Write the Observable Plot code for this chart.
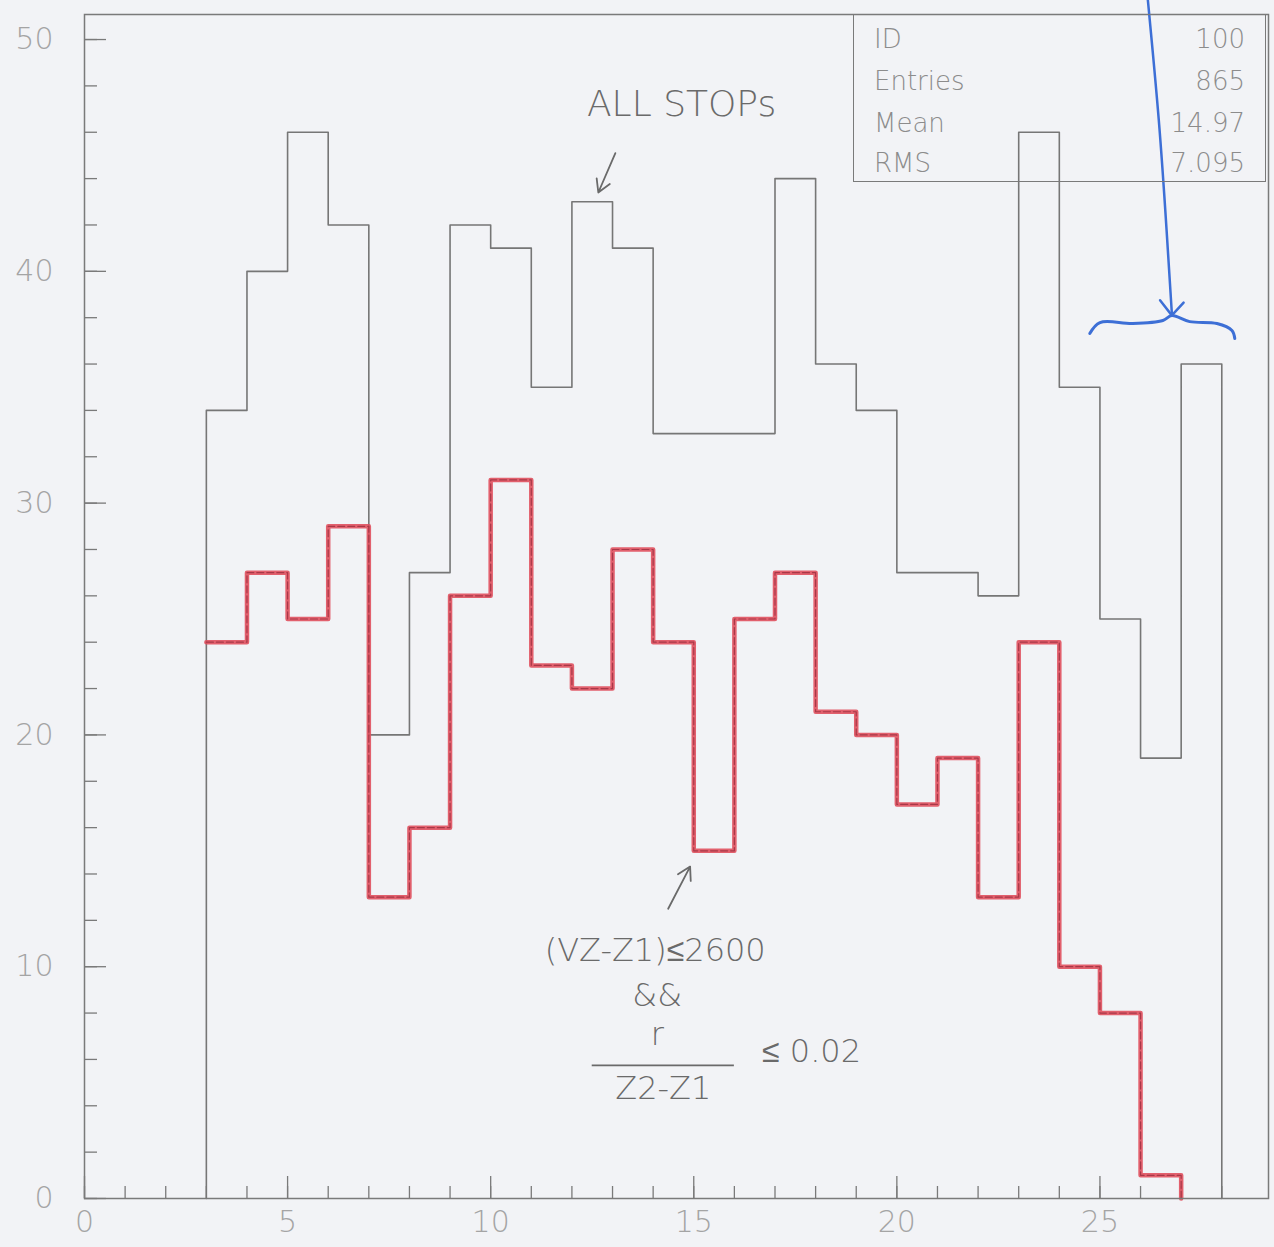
<!DOCTYPE html>
<html>
<head>
<meta charset="utf-8">
<script src="https://cdn.jsdelivr.net/npm/d3@7"></script>
<script src="https://cdn.jsdelivr.net/npm/@observablehq/plot@0.6"></script>
<style>
  html, body { margin: 0; padding: 0; background: #f2f3f6; }
  #wrap { position: relative; width: 1274px; height: 1247px; }
  #stats { position: absolute; left: 853px; top: 14px; width: 413px; height: 168px;
    border: 1.5px solid #7a7a7a; box-sizing: border-box;
    font-family: "DejaVu Sans", sans-serif; font-weight: 200; font-size: 26px; color: #8c8c8c; }
  #stats .row { position: absolute; left: 20px; right: 20px; height: 30px; line-height: 30px; }
  #stats .row span:last-child { position: absolute; right: 0; }
</style>
</head>
<body>
<div id="wrap"></div>
<script>
// ---- data ----
const binStart = 3;                 // first bin low edge (bin width 1)
const allStops = [34, 40, 46, 42, 20, 27, 42, 41, 35, 43, 41, 33, 33, 33, 44, 36, 34, 27, 27, 26, 46, 35, 25, 19, 36];
const selected = [24, 27, 25, 29, 13, 16, 26, 31, 23, 22, 28, 24, 15, 25, 27, 21, 20, 17, 19, 13, 24, 10, 8, 1];
const xLabelTicks = [0, 5, 10, 15, 20, 25];
const yLabelTicks = [0, 10, 20, 30, 40, 50];
const xMinorTicks = d3.range(0, 29, 1);
const yMinorTicks = d3.range(0, 51, 2);
const statNames = ["ID", "Entries", "Mean", "RMS"];
const statValues = ["100", "865", "14.97", "7.095"];

// hand-written annotations (in data units)
const allStopsLabel = [{x: 14.7, y: 47.2, text: "ALL STOPs"}];
const allStopsArrow = [{x1: 13.07, y1: 45.1, x2: 12.65, y2: 43.4}];
const cutLabels = [
  {x: 14.05, y: 10.7, text: "(VZ-Z1)≤2600"},
  {x: 14.1, y: 8.76, text: "&&"},
  {x: 14.1, y: 7.05, text: "r"},
  {x: 14.25, y: 4.75, text: "Z2-Z1"},
  {x: 17.9, y: 6.35, text: "≤ 0.02"}
];
const cutFraction = [{x1: 12.5, x2: 16.0, y: 5.74}];
const cutArrow = [{x1: 14.37, y1: 12.5, x2: 14.91, y2: 14.32}];
const blueArrowPath = [[26.18, 51.7], [26.45, 46.5], [26.64, 41.8], [26.77, 38.2]];
const blueArrowHead = [[26.48, 38.75], [26.77, 38.1], [27.06, 38.65]];
const blueBrace = [[24.75, 37.32], [25.0, 37.79], [25.81, 37.75], [26.55, 37.88], [26.77, 38.09],
                   [27.21, 37.83], [27.88, 37.75], [28.25, 37.45], [28.32, 37.1]];

// ---- build step outlines from bin arrays ----
function outline(values, fromZero) {
  const pts = fromZero ? [[binStart, 0]] : [];
  values.forEach((v, i) => {
    pts.push([binStart + i, v]);
    pts.push([binStart + i + 1, v]);
  });
  pts.push([binStart + values.length, 0]);
  return pts;
}

const W = 1274, H = 1247;
const mT = 14, mB = 49, mL = 84, mR = 6;
const innerH = H - mT - mB, innerW = W - mL - mR;
const font = "DejaVu Sans, sans-serif";
const hand = "DejaVu Sans, sans-serif";

const chart = Plot.plot({
  width: W, height: H,
  marginTop: mT, marginBottom: mB, marginLeft: mL, marginRight: mR,
  style: {background: "#f2f3f6", fontFamily: font, overflow: "visible"},
  x: {domain: [0, 29.15]},
  y: {domain: [0, 51.08]},
  marks: [
    // tick labels
    Plot.axisX({ticks: xLabelTicks, tickSize: 0, tickPadding: 12, fontSize: 30, fill: "#a4a4a4", fontWeight: 200, label: null}),
    Plot.axisY({ticks: yLabelTicks, tickSize: 0, tickPadding: 31, fontSize: 30, fill: "#a4a4a4", fontWeight: 200, label: null}),
    // inward ticks
    Plot.tickX(xMinorTicks, {x: d => d, insetTop: innerH - 12, stroke: "#7a7a7a", strokeWidth: 1.3}),
    Plot.tickX(xLabelTicks, {x: d => d, insetTop: innerH - 22, stroke: "#7a7a7a", strokeWidth: 1.3}),
    Plot.tickY(yMinorTicks, {y: d => d, insetRight: innerW - 13, stroke: "#7a7a7a", strokeWidth: 1.3}),
    Plot.tickY(yLabelTicks, {y: d => d, insetRight: innerW - 22, stroke: "#7a7a7a", strokeWidth: 1.3}),
    // histograms
    Plot.line(outline(allStops, true), {x: d => d[0], y: d => d[1], stroke: "#767676", strokeWidth: 1.6}),
    Plot.line(outline(selected, false), {x: d => d[0], y: d => d[1], stroke: "#e0505e", strokeWidth: 4.5, strokeOpacity: 0.9}),
    Plot.line(outline(selected, false), {x: d => d[0], y: d => d[1], stroke: "#a83848", strokeWidth: 1.2, strokeDasharray: "7,3"}),
    Plot.frame({stroke: "#7a7a7a", strokeWidth: 1.5}),
    // annotations
    Plot.text(allStopsLabel, {x: "x", y: "y", text: "text", fontSize: 36, fill: "#6a6a6a", fontFamily: hand, fontWeight: 200}),
    Plot.arrow(allStopsArrow, {x1: "x1", y1: "y1", x2: "x2", y2: "y2", stroke: "#6a6a6a", strokeWidth: 1.8, headLength: 12}),
    Plot.text(cutLabels, {x: "x", y: "y", text: "text", fontSize: 32, fill: "#6a6a6a", fontFamily: hand, fontWeight: 200}),
    Plot.ruleY(cutFraction, {x1: "x1", x2: "x2", y: "y", stroke: "#6a6a6a", strokeWidth: 1.8}),
    Plot.arrow(cutArrow, {x1: "x1", y1: "y1", x2: "x2", y2: "y2", stroke: "#6a6a6a", strokeWidth: 1.8, headLength: 12}),
    Plot.line(blueArrowPath, {x: d => d[0], y: d => d[1], curve: "natural", stroke: "#3d6fd6", strokeWidth: 2.5, clip: false}),
    Plot.line(blueArrowHead, {x: d => d[0], y: d => d[1], stroke: "#3d6fd6", strokeWidth: 2.5, strokeLinecap: "round"}),
    Plot.line(blueBrace, {x: d => d[0], y: d => d[1], curve: "catmull-rom", stroke: "#3d6fd6", strokeWidth: 3, strokeLinecap: "round"})
  ]
});

const wrap = document.getElementById("wrap");
wrap.appendChild(chart);

// statistics box (ROOT style)
const box = document.createElement("div");
box.id = "stats";
const rowTops = [9, 51, 93, 133];
statNames.forEach((n, i) => {
  const r = document.createElement("div");
  r.className = "row";
  r.style.top = rowTops[i] + "px";
  r.innerHTML = `<span>${n}</span><span>${statValues[i]}</span>`;
  box.appendChild(r);
});
wrap.appendChild(box);
</script>
</body>
</html>
